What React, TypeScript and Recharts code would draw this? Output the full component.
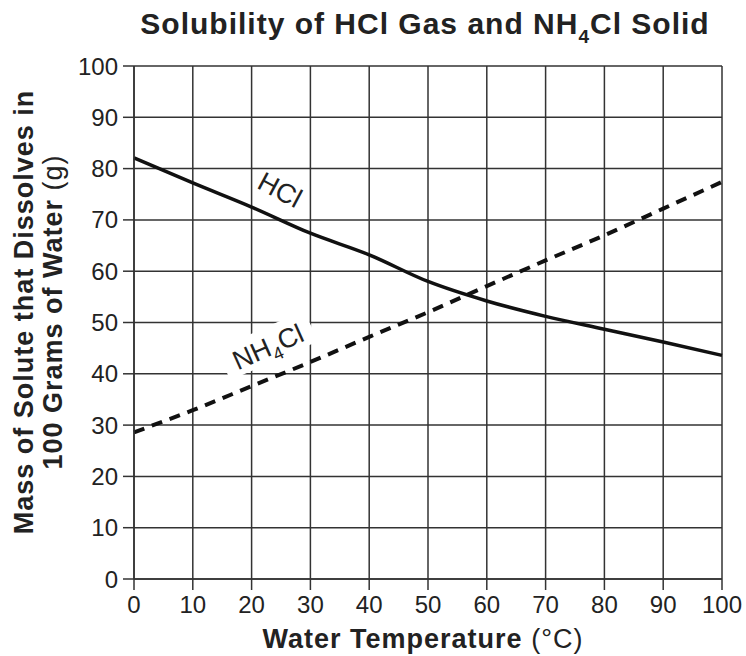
import React from 'react';
import {
  LineChart,
  Line,
  XAxis,
  YAxis,
  CartesianGrid,
  ReferenceDot,
} from 'recharts';

const temps = [0, 10, 20, 30, 40, 50, 60, 70, 80, 90, 100];
const hcl = [82.1, 77.2, 72.5, 67.4, 63.2, 58.0, 54.2, 51.2, 48.7, 46.2, 43.6];
const nh4cl = [28.6, 32.9, 37.6, 42.3, 47.2, 52.0, 57.1, 62.1, 67.0, 72.2, 77.4];
const xTicks = [0, 10, 20, 30, 40, 50, 60, 70, 80, 90, 100];
const yTicks = [0, 10, 20, 30, 40, 50, 60, 70, 80, 90, 100];

const data = temps.map((t, i) => ({ t, hcl: hcl[i], nh4cl: nh4cl[i] }));

const FONT = '"Liberation Sans", Arial, Helvetica, sans-serif';
const INK = '#222';
const GRID = '#333';

const HclLabel = (props: any) => {
  const { cx, cy } = props;
  return (
    <g transform={`translate(${cx},${cy}) rotate(28)`}>
      <text x={0} y={9} textAnchor="middle" fontSize={27} fill={INK} fontFamily={FONT}>
        HCl
      </text>
    </g>
  );
};

const Nh4clLabel = (props: any) => {
  const { cx, cy } = props;
  return (
    <g transform={`translate(${cx},${cy}) rotate(-24)`}>
      <rect x={-48} y={-19} width={96} height={34} fill="#fff" />
      <text x={0} y={9} textAnchor="middle" fontSize={27} fill={INK} fontFamily={FONT}>
        NH
        <tspan fontSize={18} dy={7}>4</tspan>
        <tspan dy={-7}>Cl</tspan>
      </text>
    </g>
  );
};

export default function App() {
  return (
    <div
      style={{
        position: 'absolute',
        left: 0,
        top: 0,
        width: 746,
        height: 656,
        background: '#fff',
        fontFamily: FONT,
      }}
    >
      <LineChart
        width={746}
        height={656}
        data={data}
        margin={{ top: 66, right: 24, bottom: 47, left: 74 }}
      >
        <CartesianGrid stroke={GRID} strokeWidth={1.5} />
        <XAxis
          dataKey="t"
          type="number"
          domain={[0, 100]}
          ticks={xTicks}
          interval={0}
          height={30}
          tickSize={11}
          tickMargin={6}
          axisLine={{ stroke: GRID, strokeWidth: 1.5 }}
          tickLine={{ stroke: GRID, strokeWidth: 1.5 }}
          tick={{ fill: INK, fontSize: 24, fontFamily: FONT }}
        />
        <YAxis
          type="number"
          domain={[0, 100]}
          ticks={yTicks}
          interval={0}
          width={60}
          tickSize={11}
          tickMargin={5}
          axisLine={{ stroke: GRID, strokeWidth: 1.5 }}
          tickLine={{ stroke: GRID, strokeWidth: 1.5 }}
          tick={{ fill: INK, fontSize: 24, fontFamily: FONT }}
        />
        <Line
          type="monotone"
          dataKey="hcl"
          stroke="#111"
          strokeWidth={3.5}
          dot={false}
          isAnimationActive={false}
        />
        <Line
          type="monotone"
          dataKey="nh4cl"
          stroke="#111"
          strokeWidth={4}
          strokeDasharray="11 8"
          dot={false}
          isAnimationActive={false}
        />
        <ReferenceDot x={24.8} y={75.8} r={0} shape={HclLabel} ifOverflow="visible" />
        <ReferenceDot x={22.8} y={45.2} r={0} shape={Nh4clLabel} ifOverflow="visible" />
      </LineChart>
      <svg
        width={746}
        height={656}
        style={{ position: 'absolute', left: 0, top: 0, pointerEvents: 'none' }}
      >
        <text
          x={425}
          y={34}
          textAnchor="middle"
          fontSize={30}
          fontWeight="bold"
          letterSpacing={1}
          fill={INK}
          fontFamily={FONT}
        >
          Solubility of HCl Gas and NH
          <tspan fontSize={19} dy={9}>4</tspan>
          <tspan dy={-9}>Cl Solid</tspan>
        </text>
        <text
          transform="translate(33,312) rotate(-90)"
          textAnchor="middle"
          fontSize={27}
          fontWeight="bold"
          letterSpacing={1}
          fill={INK}
          fontFamily={FONT}
        >
          Mass of Solute that Dissolves in
        </text>
        <text
          transform="translate(62,312) rotate(-90)"
          textAnchor="middle"
          fontSize={27}
          letterSpacing={1}
          fill={INK}
          fontFamily={FONT}
        >
          <tspan fontWeight="bold">100 Grams of Water</tspan>
          <tspan> (g)</tspan>
        </text>
        <text
          x={423}
          y={648}
          textAnchor="middle"
          fontSize={27}
          letterSpacing={1}
          fill={INK}
          fontFamily={FONT}
        >
          <tspan fontWeight="bold">Water Temperature</tspan>
          <tspan> (°C)</tspan>
        </text>
      </svg>
    </div>
  );
}
